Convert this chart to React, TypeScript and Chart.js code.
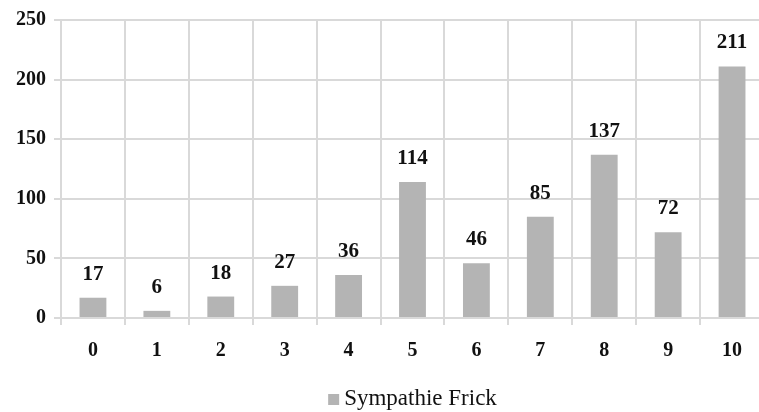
import React, { useEffect, useRef } from "react";
import { Chart, registerables } from "chart.js";

Chart.register(...registerables);

const categories = ["0", "1", "2", "3", "4", "5", "6", "7", "8", "9", "10"];
const sympathieFrick = [17, 6, 18, 27, 36, 114, 46, 85, 137, 72, 211];
const seriesLabel = "Sympathie Frick";
const yTicks = [0, 50, 100, 150, 200, 250];

const GRID = "#d9d9d9";
const BAR = "#b4b4b4";
const TEXT = "#111111";
const SERIF = "'Liberation Serif', serif";

// Writes each bar's value above it
const valueLabels = {
  id: "valueLabels",
  afterDatasetsDraw(chart: any) {
    const ctx = chart.ctx;
    const meta = chart.getDatasetMeta(0);
    const data = chart.data.datasets[0].data as number[];
    ctx.save();
    ctx.font = `bold 21px ${SERIF}`;
    ctx.fillStyle = TEXT;
    ctx.textAlign = "center";
    ctx.textBaseline = "alphabetic";
    meta.data.forEach((bar: any, i: number) => {
      ctx.fillText(String(data[i]), bar.x, bar.y - 18);
    });
    ctx.restore();
  },
};

// Series key under the plot, centred on the plot area
const seriesKey = {
  id: "seriesKey",
  afterDraw(chart: any) {
    const ctx = chart.ctx;
    const { left, right } = chart.chartArea;
    const ds = chart.data.datasets[0];
    ctx.save();
    ctx.font = `23px ${SERIF}`;
    const tw = ctx.measureText(ds.label).width;
    const box = 11;
    const gap = 5;
    const total = box + gap + tw;
    const x0 = (left + right) / 2 - total / 2;
    const baseline = 405;
    ctx.fillStyle = ds.backgroundColor;
    ctx.fillRect(x0, baseline - box, box, box);
    ctx.fillStyle = TEXT;
    ctx.textAlign = "left";
    ctx.textBaseline = "alphabetic";
    ctx.fillText(ds.label, x0 + box + gap, baseline);
    ctx.restore();
  },
};

export default function App() {
  const ref = useRef<HTMLCanvasElement>(null);

  useEffect(() => {
    if (!ref.current) return;
    const chart = new Chart(ref.current, {
      type: "bar",
      data: {
        labels: categories,
        datasets: [
          {
            label: seriesLabel,
            data: sympathieFrick,
            backgroundColor: BAR,
            borderWidth: 0,
            categoryPercentage: 0.42,
            barPercentage: 1,
          },
        ],
      },
      options: {
        responsive: false,
        animation: false,
        devicePixelRatio: 1,
        layout: { padding: { left: 0, right: 61, top: 19, bottom: 0 } },
        plugins: {
          tooltip: { enabled: false },
          legend: { display: false },
        },
        scales: {
          x: {
            offset: true,
            grid: {
              color: GRID,
              lineWidth: 2,
              offset: true,
              tickLength: 7,
            },
            border: { color: GRID, width: 2 },
            ticks: {
              color: TEXT,
              padding: 14,
              font: { family: SERIF, size: 20, weight: "bold" },
            },
            afterFit: (scale: any) => {
              scale.height = 94;
            },
          },
          y: {
            min: 0,
            max: 250,
            afterBuildTicks: (scale: any) => {
              scale.ticks = yTicks.map((v) => ({ value: v }));
            },
            grid: { color: GRID, lineWidth: 2, tickLength: 7 },
            border: { color: GRID, width: 2 },
            ticks: {
              color: TEXT,
              padding: 8,
              font: { family: SERIF, size: 20, weight: "bold" },
            },
            afterFit: (scale: any) => {
              scale.width = 61;
            },
          },
        },
      },
      plugins: [valueLabels, seriesKey],
    });
    return () => chart.destroy();
  }, []);

  return (
    <div
      style={{
        position: "fixed",
        left: 0,
        top: 0,
        width: 759,
        height: 412,
        overflow: "hidden",
        background: "#ffffff",
      }}
    >
      <canvas ref={ref} width={825} height={412} style={{ display: "block" }} />
    </div>
  );
}
